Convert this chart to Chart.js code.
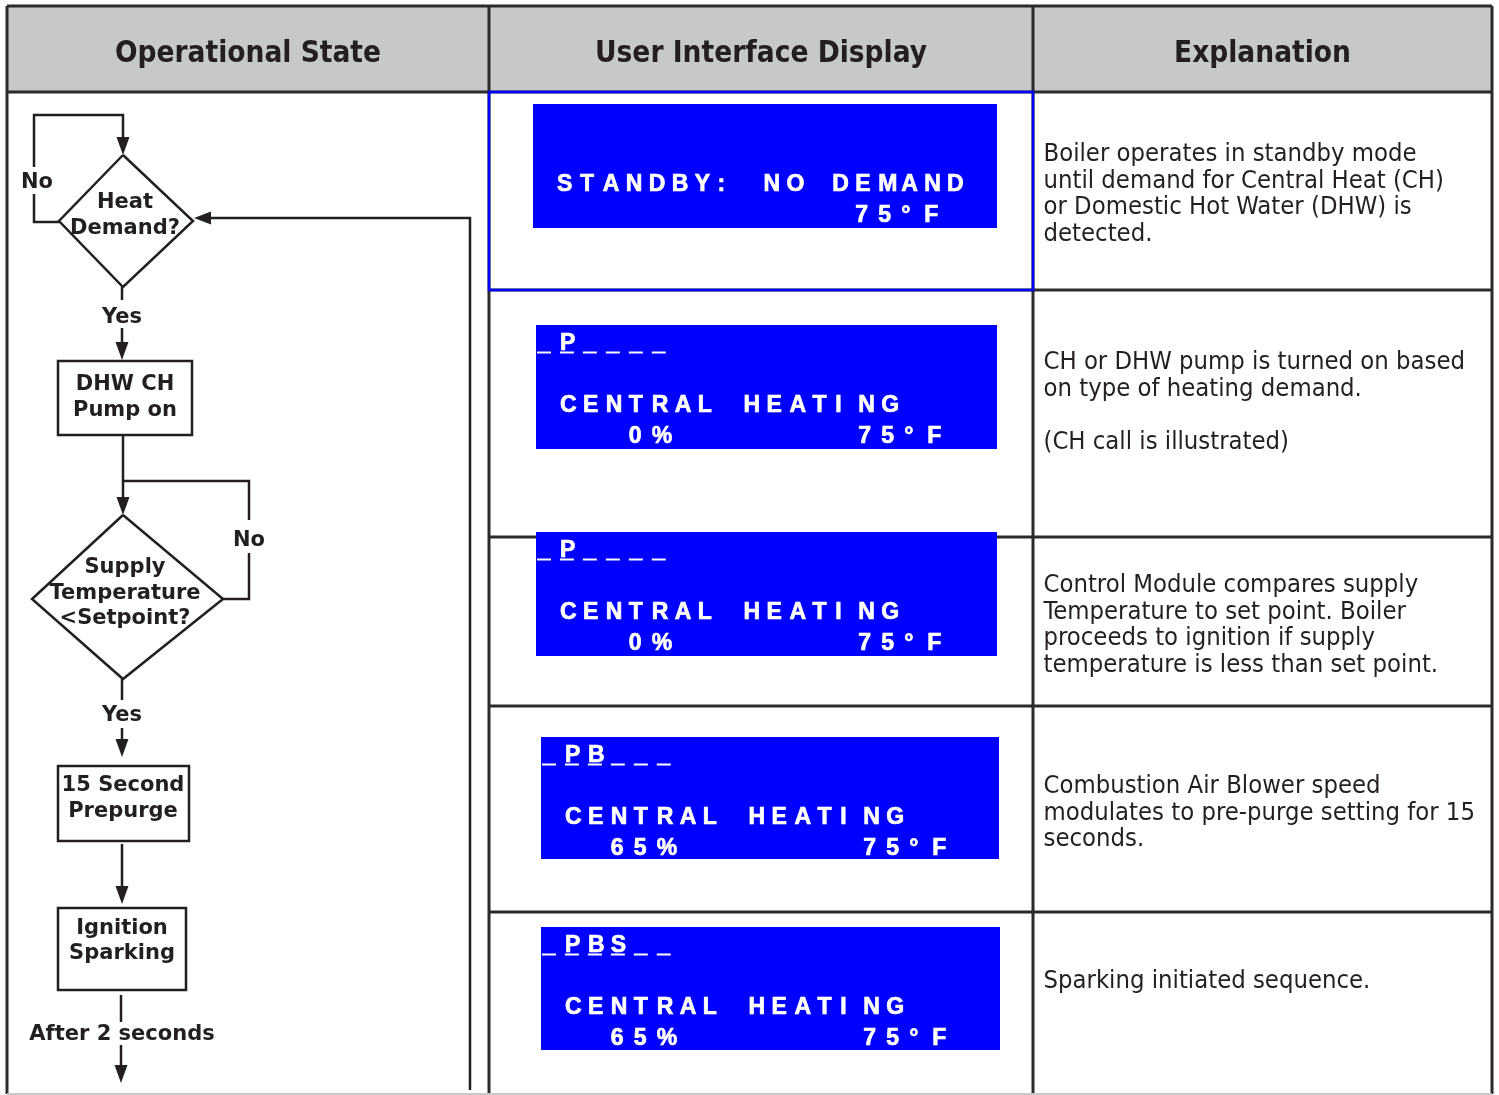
<!DOCTYPE html>
<html>
<head>
<meta charset="utf-8">
<script src="https://cdn.jsdelivr.net/npm/chart.js@4.4.0/dist/chart.umd.min.js"></script>
<style>
  html, body { margin: 0; padding: 0; background: #fff; }
</style>
</head>
<body>
<canvas id="chart" width="1499" height="1095"></canvas>
<script>
// column headers
const headers = ["Operational State", "User Interface Display", "Explanation"];

// flowchart node labels
const stepHeat = ["Heat", "Demand?"];
const stepPump = ["DHW CH", "Pump on"];
const stepSupply = ["Supply", "Temperature", "<Setpoint?"];
const stepPurge = ["15 Second", "Prepurge"];
const stepSpark = ["Ignition", "Sparking"];
const yesLabel = "Yes";
const noLabel = "No";
const delayLabel = "After 2 seconds";

// what the display screen shows on each row
const statusFlags = ["", " P    ", " P    ", " PB   ", " PBS  "];
const modeText = ["STANDBY: NO DEMAND", "CENTRAL HEATING", "CENTRAL HEATING", "CENTRAL HEATING", "CENTRAL HEATING"];
const blowerPct = [null, 0, 0, 65, 65];
const supplyTempF = [75, 75, 75, 75, 75];

// explanation column, one list of lines per row
const explanations = [
  ["Boiler operates in standby mode", "until demand for Central Heat (CH)", "or Domestic Hot Water (DHW) is", "detected."],
  ["CH or DHW pump is turned on based", "on type of heating demand.", "", "(CH call is illustrated)"],
  ["Control Module compares supply", "Temperature to set point. Boiler", "proceeds to ignition if supply", "temperature is less than set point."],
  ["Combustion Air Blower speed", "modulates to pre-purge setting for 15", "seconds."],
  ["Sparking initiated sequence."]
];

//layout (in the same units as the hidden axes)
const table = { left: 7, right: 1492, top: 6, headBottom: 92, bottom: 1094, cols: [489, 1033] };
const rowEdges = [92, 290, 537, 706, 912, 1094];
const screens = [
  { x: 533, y: 104, w: 464, h: 124 },
  { x: 536, y: 325, w: 461, h: 124 },
  { x: 536, y: 532, w: 461, h: 124 },
  { x: 541, y: 737, w: 458, h: 122 },
  { x: 541, y: 927, w: 459, h: 123 }
];
const explainTop = [161, 369, 592, 793, 988];
const PITCH = 22.95;
const INK = "#231f20";
const BLUE = "#0000ff";

function drawSheet(chart) {
  const ctx = chart.ctx;
  const sx = chart.scales.x, sy = chart.scales.y;
  const X = v => sx.getPixelForValue(v);
  const Y = v => sy.getPixelForValue(v);

  function path(pts, color, width) {
    ctx.beginPath();
    ctx.moveTo(X(pts[0][0]), Y(pts[0][1]));
    for (let i = 1; i < pts.length; i++) ctx.lineTo(X(pts[i][0]), Y(pts[i][1]));
    ctx.strokeStyle = color;
    ctx.lineWidth = width;
    ctx.stroke();
  }
  function arrow(x, y, dir) {
    // dir: "down" or "left", tip at x,y
    ctx.beginPath();
    if (dir === "down") {
      ctx.moveTo(X(x), Y(y));
      ctx.lineTo(X(x - 6.5), Y(y - 18));
      ctx.lineTo(X(x + 6.5), Y(y - 18));
    } else {
      ctx.moveTo(X(x), Y(y));
      ctx.lineTo(X(x + 17), Y(y - 6.5));
      ctx.lineTo(X(x + 17), Y(y + 6.5));
    }
    ctx.closePath();
    ctx.fillStyle = INK;
    ctx.fill();
  }
  function label(lines, cx, baselines) {
    ctx.fillStyle = INK;
    ctx.font = "bold 21px 'DejaVu Sans'";
    ctx.textAlign = "center";
    ctx.textBaseline = "alphabetic";
    lines.forEach((t, i) => ctx.fillText(t, X(cx), Y(baselines[i])));
  }
  function box(x0, y0, x1, y1) {
    ctx.strokeStyle = INK;
    ctx.lineWidth = 2.5;
    ctx.strokeRect(X(x0), Y(y0), X(x1) - X(x0), Y(y1) - Y(y0));
  }
  function diamond(cx, top, bottom, left, right, mid) {
    path([[cx, top], [right, mid], [cx, bottom], [left, mid], [cx, top]], INK, 2.5);
  }

  // header band
  ctx.fillStyle = "#c7c8ca";
  ctx.fillRect(X(table.left), Y(table.top), X(table.right) - X(table.left), Y(table.headBottom) - Y(table.top));
  ctx.fillStyle = INK;
  ctx.font = "bold 29.5px 'DejaVu Sans Condensed'";
  ctx.textAlign = "center";
  const colEdges = [table.left, table.cols[0], table.cols[1], table.right];
  headers.forEach((h, i) => ctx.fillText(h, X((colEdges[i] + colEdges[i + 1]) / 2), Y(62)));

  // table grid
  const gridColor = "#2b2b2b";
  path([[table.left, table.top], [table.right, table.top]], gridColor, 3);
  path([[table.left, table.headBottom], [table.right, table.headBottom]], gridColor, 3);
  path([[table.left, table.top], [table.left, table.bottom]], gridColor, 3);
  path([[table.right, table.top], [table.right, table.bottom]], gridColor, 3);
  table.cols.forEach(c => path([[c, table.top], [c, table.bottom]], gridColor, 3));
  for (let r = 1; r < rowEdges.length - 1; r++) {
    path([[table.cols[0], rowEdges[r]], [table.right, rowEdges[r]]], gridColor, 3);
  }
  path([[table.left, table.bottom], [table.right, table.bottom]], "#c8c8c8", 2);

  // first row is outlined in blue inside the display column
  ctx.strokeStyle = BLUE;
  ctx.lineWidth = 2.5;
  ctx.strokeRect(X(table.cols[0]), Y(rowEdges[0]), X(table.cols[1]) - X(table.cols[0]), Y(rowEdges[1]) - Y(rowEdges[0]));

  // display screens
  screens.forEach((s, r) => {
    ctx.fillStyle = BLUE;
    ctx.fillRect(X(s.x), Y(s.y), X(s.x + s.w) - X(s.x), Y(s.y + s.h) - Y(s.y));
    ctx.fillStyle = "#ffffff";
    ctx.strokeStyle = "#ffffff";
    ctx.lineWidth = 0.7;
    ctx.font = "bold 23px 'Liberation Sans'";
    ctx.textAlign = "left";
    const cell0 = s.x + 1;
    const cells = (str, start, base) => {
      for (let i = 0; i < str.length; i++) {
        if (str[i] === " ") continue;
        const px = X(cell0 + (start + i) * PITCH);
        ctx.fillText(str[i], px, Y(base));
        ctx.strokeText(str[i], px, Y(base));
      }
    };
    const flags = statusFlags[r];
    if (flags) {
      const base = s.y + 24.5;
      for (let i = 0; i < flags.length; i++) {
        ctx.fillRect(X(cell0 + i * PITCH), Y(base + 2), X(14) - X(0), Y(2) - Y(0));
      }
      cells(flags, 0, base);
    }
    cells(modeText[r], 1, s.y + 86.5);
    if (blowerPct[r] !== null) {
      const pct = blowerPct[r] + "%";
      cells(pct, 6 - pct.length, s.y + 117.5);
    }
    cells(supplyTempF[r] + "\u00b0F", 14, s.y + 117.5);
  });

  // explanations
  ctx.fillStyle = INK;
  ctx.font = "25.4px 'DejaVu Sans Condensed'";
  ctx.textAlign = "left";
  explanations.forEach((lines, r) => {
    lines.forEach((t, i) => ctx.fillText(t, X(1043.5), Y(explainTop[r] + i * 26.6)));
  });

  // flowchart
  // heat demand loop
  path([[59, 222], [34, 222], [34, 194]], INK, 2.5);
  path([[34, 167], [34, 115], [123, 115], [123, 150]], INK, 2.5);
  arrow(123, 155, "down");
  label([noLabel], 37, [188]);
  diamond(123, 155, 287, 59, 193, 221);
  label(stepHeat, 125, [208, 234]);
  // return line from further down the sequence
  path([[470, 1090], [470, 218], [200, 218]], INK, 2.5);
  arrow(194, 218, "left");

  path([[122, 287], [122, 300]], INK, 2.5);
  label([yesLabel], 122, [323]);
  path([[122, 328], [122, 350]], INK, 2.5);
  arrow(122, 360, "down");
  box(58, 361, 192, 435);
  label(stepPump, 125, [390, 416]);

  path([[123, 435], [123, 505]], INK, 2.5);
  arrow(123, 515, "down");
  path([[123, 481], [249, 481], [249, 520]], INK, 2.5);
  label([noLabel], 249, [546]);
  path([[249, 553], [249, 599], [223, 599]], INK, 2.5);
  diamond(123, 515, 679, 32, 223, 599);
  label(stepSupply, 125, [573, 599, 624]);

  path([[122, 679], [122, 700]], INK, 2.5);
  label([yesLabel], 122, [721]);
  path([[122, 728], [122, 748]], INK, 2.5);
  arrow(122, 757, "down");
  box(58, 766, 189, 841);
  label(stepPurge, 123, [791, 817]);

  path([[122, 844], [122, 895]], INK, 2.5);
  arrow(122, 904, "down");
  box(58, 908, 186, 990);
  label(stepSpark, 122, [934, 959]);

  path([[121, 995], [121, 1022]], INK, 2.5);
  label([delayLabel], 122, [1040]);
  path([[121, 1045], [121, 1074]], INK, 2.5);
  arrow(121, 1083, "down");
}

const sheetPlugin = { id: "sheet", afterDraw: drawSheet };

new Chart(document.getElementById("chart"), {
  type: "scatter",
  data: { datasets: [{ data: [], pointRadius: 0 }] },
  options: {
    responsive: false,
    animation: false,
    devicePixelRatio: 1,
    events: [],
    layout: { padding: 0 },
    plugins: { legend: { display: false }, tooltip: { enabled: false } },
    scales: {
      x: { type: "linear", min: 0, max: 1499, display: false },
      y: { type: "linear", min: 0, max: 1095, reverse: true, display: false }
    }
  },
  plugins: [sheetPlugin]
});
</script>
</body>
</html>
